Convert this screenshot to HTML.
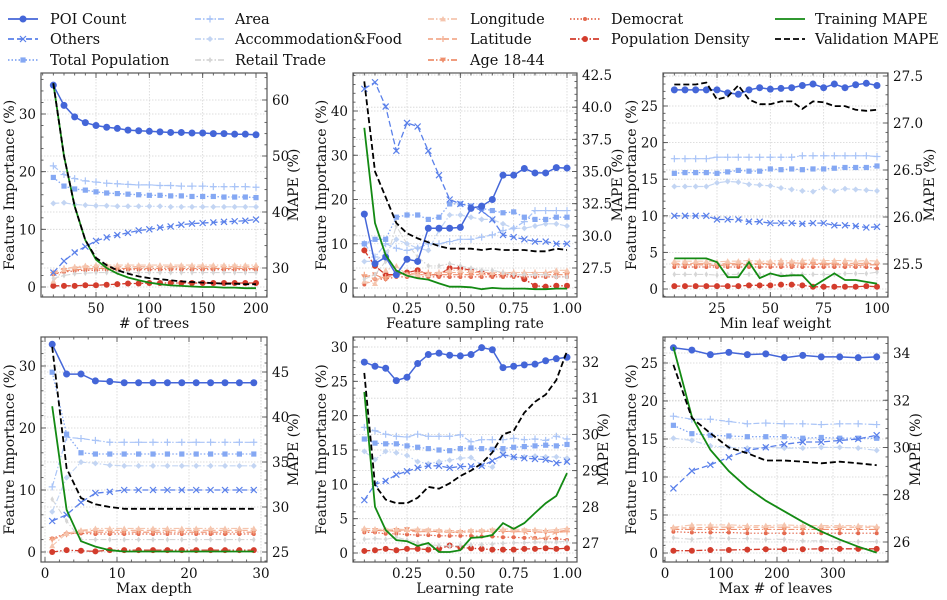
<!DOCTYPE html>
<html><head><meta charset="utf-8">
<style>
html,body{margin:0;padding:0;background:#fff;}
svg{display:block;font-family:"DejaVu Serif","Liberation Serif",serif;}
</style></head>
<body>
<svg id="fig" width="947" height="600" viewBox="0 0 947 600"></svg>
<script>
// ---------------- DATA ----------------
const seriesNames = ["POI Count","Others","Total Population","Area","Accommodation&Food","Retail Trade","Longitude","Latitude","Age 18-44","Democrat","Population Density"];

// Panel 1: # of trees
const p1_x = [10,20,30,40,50,60,70,80,90,100,110,120,130,140,150,160,170,180,190,200];
const p1_poi = [35,31.5,29.5,28.5,28,27.7,27.5,27.2,27.1,27,26.9,26.8,26.8,26.7,26.7,26.6,26.6,26.5,26.5,26.4];
const p1_others = [2.5,4.5,6,7,8,8.6,9,9.4,9.8,10,10.3,10.5,10.8,11,11.1,11.2,11.3,11.4,11.5,11.7];
const p1_totpop = [19,17.5,17,16.8,16.5,16.3,16.2,16.1,16,15.9,15.9,15.8,15.8,15.7,15.7,15.7,15.6,15.6,15.6,15.5];
const p1_area = [21,19.5,18.8,18.4,18.2,18,17.9,17.8,17.7,17.7,17.6,17.6,17.5,17.5,17.5,17.4,17.4,17.4,17.4,17.3];
const p1_accom = [14.5,14.6,14.3,14.2,14.1,14.1,14,14,14,14,14,13.9,13.9,13.9,13.9,13.9,13.9,13.9,13.9,13.9];
const p1_retail = [1.5,2,2.3,2.4,2.5,2.5,2.5,2.5,2.5,2.5,2.5,2.5,2.5,2.5,2.5,2.5,2.5,2.5,2.5,2.5];
const p1_lon = [1,3,3.5,3.7,3.8,3.8,3.8,3.8,3.8,3.8,3.8,3.8,3.8,3.8,3.8,3.8,3.8,3.8,3.8,3.8];
const p1_lat = [2.5,3.2,3.4,3.5,3.5,3.5,3.5,3.5,3.5,3.5,3.5,3.5,3.5,3.5,3.5,3.5,3.5,3.5,3.5,3.5];
const p1_age = [2.2,2.8,3,3.1,3.2,3.2,3.2,3.2,3.2,3.2,3.2,3.2,3.2,3.2,3.2,3.2,3.2,3.2,3.2,3.2];
const p1_dem = [2.2,2.6,2.8,2.9,2.9,3,3,3,3,3,3,3,3,3,3,3,3,3,3,3];
const p1_pd = [0.2,0.2,0.2,0.3,0.3,0.4,0.5,0.6,0.6,0.7,0.7,0.7,0.7,0.7,0.7,0.7,0.7,0.7,0.7,0.7];
const p1_train = [63,50,41,35,31.5,30,29,28.3,27.8,27.4,27.1,26.9,26.8,26.7,26.6,26.6,26.5,26.5,26.4,26.4];
const p1_val = [63,50,41,35,31.8,30.5,29.6,29,28.5,28.2,28,27.8,27.6,27.5,27.4,27.3,27.2,27.2,27.1,27.1];

// Panel 2: feature sampling rate
const p2_x = [0.05,0.1,0.15,0.2,0.25,0.3,0.35,0.4,0.45,0.5,0.55,0.6,0.65,0.7,0.75,0.8,0.85,0.9,0.95,1.0];
const p2_poi = [16.7,5.5,7,3,6.5,6,13.5,13.5,13.5,13.7,18,18.5,20,25.5,25.5,27,26,26,27.2,27.1];
const p2_others = [45,46.5,41,31,37.3,36.5,31,25.5,20,19,18.5,17.5,15.5,12,11.5,11,10.5,10.5,10,10];
const p2_totpop = [10,11,11,16,16.5,16.5,15.5,16,19,19,18.5,18,17.5,17,17.2,16,15.5,15.5,16,16];
const p2_area = [10,7,10,9,8.5,9,10,10,10.5,11,11,11.5,12,13,13.5,15,17.5,17.5,17.5,17.5];
const p2_accom = [6,6,8,11,10,9,8.5,13,16.5,16.5,16,15.5,15.5,14.5,13.5,13.5,14,14.5,14.5,14];
const p2_retail = [2,3,6,14,10,7,5,5,5.5,5,4.5,4,4,3.5,3,3,3,3,2.5,2.5];
const p2_lon = [1.5,1,4,5,3,3,3,3.5,4,4,4,3.5,3.5,3.5,3.5,3.5,3.5,3.5,4,4];
const p2_lat = [3,2,2.5,3,3,3.5,3.5,3.5,3.5,3.5,3.5,3.5,3.5,3.5,3.5,3.5,3.5,3.5,3.5,3.5];
const p2_age = [2.5,3,2,3.5,3,3,3,3,3,3,3,3,3,3,3,3,3,3,3,3];
const p2_dem = [0.8,2,2,2.5,2.5,2.5,2.5,2.5,2.5,2.5,2.5,2.5,2.5,2.5,2.5,2.5,2.5,2.5,2.5,2.5];
const p2_pd = [8.5,5,3,3,3.5,4,3,3,4.5,4.5,4,3.5,3,3,3,2,0.5,0.3,0.5,0.5];
const p2_train = [38.4,31,28.5,27.3,26.9,26.7,26.6,26.3,26.05,26.05,26,25.85,25.95,25.9,25.9,25.9,25.85,25.85,25.9,25.9];
const p2_val = [42,35,33,31,30.2,29.8,29.5,29.2,29,29,29,28.9,29,28.9,28.9,28.9,28.8,28.8,29,28.9];

// Panel 3: min leaf weight
const p3_x = [5,10,15,20,25,30,35,40,45,50,55,60,65,70,75,80,85,90,95,100];
const p3_poi = [27.2,27.2,27.2,27.2,27.2,26.8,26.6,27.2,27.5,27.3,27.4,27.5,27.8,28,27.5,28,27.5,27.9,28.1,27.8];
const p3_others = [10,10,10,10,9.5,9.5,9.5,9.2,9.2,9,9,9,8.9,9,9,8.7,8.7,8.6,8.4,8.5];
const p3_totpop = [15.8,15.9,15.9,15.9,15.8,16,16.2,16.1,16.1,16.4,16.3,16.4,16.3,16.4,16.4,16.5,16.6,16.6,16.6,16.8];
const p3_area = [17.8,17.8,17.8,17.8,18,18,18,18,18,18,18,18,18.2,18.2,18.2,18.2,18.2,18.2,18.2,18.1];
const p3_accom = [14,14,14,14,14.5,14.7,14.6,14.3,14.2,14.1,13.8,13.6,13.4,13.3,13.8,13.4,13.7,13.6,13.5,13.4];
const p3_retail = [2,2,2,2,1.9,2,2,2,2,2,2,2,2,2,2,2,2.1,2.1,2.1,2.3];
const p3_lon = [3.8,3.8,3.8,3.8,3.7,3.8,3.8,3.9,3.8,3.8,3.9,3.8,3.9,4,3.9,3.9,3.9,3.8,3.9,3.8];
const p3_lat = [3.5,3.5,3.5,3.5,3.4,3.5,3.5,3.5,3.5,3.5,3.5,3.6,3.5,3.5,3.5,3.5,3.5,3.5,3.5,3.5];
const p3_age = [3.3,3.3,3.3,3.3,3.2,3.3,3.3,3.3,3.4,3.3,3.3,3.2,3.3,3.4,3.3,3.3,3.3,3.2,3.3,3.3];
const p3_dem = [3,3,3,3,3,3,3,3,3,3,3,3,3,3,3,3,3,3,3,2.8];
const p3_pd = [0.4,0.4,0.4,0.4,0.4,0.4,0.4,0.5,0.5,0.5,0.6,0.6,0.5,0.3,0.3,0.3,0.3,0.3,0.4,0.3];
const p3_train = [25.56,25.56,25.56,25.56,25.52,25.36,25.36,25.52,25.35,25.4,25.37,25.38,25.38,25.26,25.33,25.4,25.33,25.33,25.31,25.29];
const p3_val = [27.41,27.41,27.41,27.43,27.25,27.28,27.4,27.25,27.2,27.2,27.23,27.23,27.15,27.23,27.22,27.18,27.18,27.14,27.13,27.14];

// Panel 4: max depth
const p4_x = [1,3,5,7,9,11,13,15,17,19,21,23,25,27,29];
const p4_poi = [33.5,28.7,28.7,27.6,27.5,27.3,27.3,27.3,27.3,27.3,27.3,27.3,27.3,27.3,27.3];
const p4_others = [5,6,8,9.5,9.7,10,10,10,10,10,10,10,10,10,10];
const p4_totpop = [29,19,16,15.8,15.8,15.8,15.8,15.8,15.8,15.8,15.8,15.8,15.8,15.8,15.8];
const p4_area = [10.5,18.5,18.3,18,17.7,17.7,17.7,17.7,17.7,17.7,17.7,17.7,17.7,17.7,17.7];
const p4_accom = [6.5,12,14.5,14.3,14,13.9,13.9,13.9,13.9,13.9,13.9,13.9,13.9,13.9,13.9];
const p4_retail = [8.5,5,2,2,2,2,2,2,2,2,2,2,2,2,2];
const p4_lon = [1,3,3.5,3.8,3.8,3.8,3.8,3.8,3.8,3.8,3.8,3.8,3.8,3.8,3.8];
const p4_lat = [2,3,3.4,3.5,3.5,3.5,3.5,3.5,3.5,3.5,3.5,3.5,3.5,3.5,3.5];
const p4_age = [2,2.8,3.2,3.2,3.2,3.2,3.2,3.2,3.2,3.2,3.2,3.2,3.2,3.2,3.2];
const p4_dem = [2.2,3,3,2.9,2.9,2.9,2.9,2.9,2.9,2.9,2.9,2.9,2.9,2.9,2.9];
const p4_pd = [0,0.3,0.2,0.1,0.3,0.3,0.3,0.3,0.3,0.3,0.3,0.3,0.3,0.3,0.3];
const p4_train = [41.2,29.7,26.2,25.6,25.2,25.05,25.05,25.05,25.05,25.05,25.05,25.05,25.05,25.05,25.05];
const p4_val = [47.8,34.3,31,30.3,30,29.8,29.8,29.8,29.8,29.8,29.8,29.8,29.8,29.8,29.8];

// Panel 5: learning rate
const p5_x = [0.05,0.1,0.15,0.2,0.25,0.3,0.35,0.4,0.45,0.5,0.55,0.6,0.65,0.7,0.75,0.8,0.85,0.9,0.95,1.0];
const p5_poi = [27.8,27.2,26.9,25.1,25.6,27.6,28.9,29.1,28.8,28.7,28.9,29.9,29.6,27,27.2,27.4,27.5,28,28.3,28.5];
const p5_others = [7.7,10,10.5,11.4,11.9,12.4,12.7,12.7,12.4,12.6,12.6,12.7,13.4,14.3,14,13.8,13.7,13.6,13.1,13.3];
const p5_totpop = [16.6,16,15.9,15.9,15.6,15.4,15.2,15,14.9,15.2,15.3,15.2,15.1,15.2,15.4,15.5,15.6,15.7,15.6,15.8];
const p5_area = [18.3,17.8,17.3,17,16.9,17.3,17,17,17,17.2,16.2,16.5,16.5,16.5,16.7,16.5,16.6,16.4,17,16.6];
const p5_accom = [14.8,13.6,14.8,14.6,14.2,13.3,13,13.3,13.5,13.8,13.9,12.8,12.5,14.6,13.8,14,14.1,14,14,13.8];
const p5_retail = [2,2.1,2,2.3,1.9,1.5,1.2,1.1,1,1.1,1.2,1.2,1.3,1.4,1.5,1.5,1.6,1.6,1.6,1.7];
const p5_lon = [3.6,3.5,3.4,3.5,3.4,3.5,3.4,3.3,3.3,3.2,3.3,3.3,3.4,3.5,3.5,3.4,3.4,3.3,3.4,3.6];
const p5_lat = [3.3,3.2,3.3,3.1,3.2,3.1,3.1,3.2,3.0,3.1,3.1,3.2,3.1,3.2,3.1,3.1,2.0,2.2,3.0,3.1];
const p5_age = [3.2,3.3,3.2,3.3,3.4,3.2,3.2,3.1,3.0,3.0,3.1,3.1,3.2,3.1,3.2,3.2,3.1,3.0,3.1,3.3];
const p5_dem = [3,3,2.8,2.8,2.7,2.6,2.6,2.5,2.5,2.5,2.5,2.4,2.4,2.3,2.3,2.2,2.2,2.1,2.1,1.9];
const p5_pd = [0.3,0.4,0.6,0.4,0.6,0.6,0.5,0.6,1.1,0.8,0.7,0.6,0.5,0.5,0.5,0.6,0.6,0.7,0.6,0.7];
const p5_train = [31.17,28,27.36,27.08,27.05,26.92,27,26.75,26.75,26.8,27.14,27.16,27.22,27.55,27.39,27.55,27.83,28.1,28.3,28.93];
const p5_val = [31.7,28.6,28.2,28.1,28.1,28.25,28.55,28.5,28.65,28.85,29.0,29.2,29.5,30.0,30.1,30.6,30.9,31.1,31.5,32.3];

// Panel 6: max # of leaves
const p6_x = [15,48,81,114,147,180,213,246,279,312,345,378];
const p6_poi = [27,26.7,26.1,26.4,26.1,26.2,25.7,26,25.8,25.8,25.7,25.8];
const p6_others = [8.5,10.8,11.6,12.6,13.5,13.9,14.3,14.6,14.6,14.8,15,15.5];
const p6_totpop = [16.8,15.7,15.5,15.4,15.3,15.3,15.3,15.1,15.2,15.1,15.1,15.1];
const p6_area = [18,17.6,17.6,17.3,17,17.1,17,17,16.9,17,17,16.9];
const p6_accom = [15.1,14.8,14.1,13.9,13.8,13.9,13.8,13.8,13.9,13.9,13.8,13.5];
const p6_retail = [2,1.8,2,1.9,1.9,1.8,1.8,1.6,1.6,1.5,1.5,1.5];
const p6_lon = [3.4,3.7,3.7,3.7,3.6,3.6,3.7,3.6,3.6,3.6,3.6,3.5];
const p6_lat = [3.3,3.3,3.4,3.4,3.4,3.4,3.4,3.4,3.4,3.4,3.4,3.4];
const p6_age = [3.1,3.1,3.1,3.1,3.1,3.1,3.1,3.1,3.1,3.1,3.1,3.1];
const p6_dem = [2.8,2.7,2.7,2.7,2.6,2.6,2.6,2.6,2.6,2.6,2.6,2.6];
const p6_pd = [0.3,0.3,0.4,0.4,0.45,0.5,0.5,0.5,0.55,0.55,0.55,0.55];
const p6_train = [34.25,31.3,29.9,29.0,28.3,27.75,27.3,26.85,26.45,26.1,25.8,25.55];
const p6_val = [33.5,31.25,30.6,30,29.76,29.45,29.45,29.4,29.33,29.4,29.33,29.25];

// Tick labels
const p1_xticks=[50,100,150,200], p1_lticks=[0,10,20,30], p1_rticks=[30,40,50,60];
const p2_xticks=["0.25","0.50","0.75","1.00"], p2_lticks=[0,10,20,30,40], p2_rticks=["27.5","30.0","32.5","35.0","37.5","40.0","42.5"];
const p3_xticks=[25,50,75,100], p3_lticks=[0,5,10,15,20,25], p3_rticks=["25.5","26.0","26.5","27.0","27.5"];
const p4_xticks=[0,10,20,30], p4_lticks=[0,10,20,30], p4_rticks=[25,30,35,40,45];
const p5_xticks=["0.25","0.50","0.75","1.00"], p5_lticks=[0,5,10,15,20,25,30], p5_rticks=[27,28,29,30,31,32];
const p6_xticks=[0,100,200,300], p6_lticks=[0,5,10,15,20,25], p6_rticks=[26,28,30,32,34];

// ---------------- STYLE ----------------
const styles = [
 {c:"#4466d8",d:"",m:"circle",r:3.5,w:1.5},
 {c:"#5a80ea",d:"6,3",m:"x",r:3,w:1.3},
 {c:"#85a8f3",d:"1.5,2",m:"square",r:2.6,w:1.3},
 {c:"#a9c4f7",d:"6,2,1.5,2",m:"plus",r:3.5,w:1.2},
 {c:"#c3d5f3",d:"6,2,1.5,2",m:"diamond",r:3,w:1.2},
 {c:"#d6d6d6",d:"6,2,1.5,2",m:"tdiamond",r:3,w:1.1},
 {c:"#f5c5ae",d:"6,2,1.5,2",m:"tri",r:3,w:1.1},
 {c:"#f3ab8d",d:"5,3",m:"plus",r:3,w:1.1},
 {c:"#ee8e6c",d:"6,2,1.5,2",m:"tridown",r:3,w:1.1},
 {c:"#e46a50",d:"1.5,2",m:"circle",r:2,w:1.2},
 {c:"#d33c2c",d:"6,2,1.5,2",m:"circle",r:3,w:1.3}
];

const NS="http://www.w3.org/2000/svg";
const svg=document.getElementById('fig');
function mk(tag,attrs,parent){const e=document.createElementNS(NS,tag);for(const k in attrs)e.setAttribute(k,attrs[k]);(parent||svg).appendChild(e);return e;}
function linear(v1,p1,v2,p2){return v=>p1+(v-v1)*(p2-p1)/(v2-v1);}

function marker(g,type,x,y,r,c){
  let e;
  if(type==="circle") e=mk('circle',{cx:x,cy:y,r:r,fill:c},g);
  else if(type==="square") e=mk('rect',{x:x-r,y:y-r,width:2*r,height:2*r,fill:c},g);
  else if(type==="x") e=mk('path',{d:`M${x-r},${y-r}L${x+r},${y+r}M${x-r},${y+r}L${x+r},${y-r}`,stroke:c,'stroke-width':1.2,fill:'none'},g);
  else if(type==="plus") e=mk('path',{d:`M${x-r},${y}L${x+r},${y}M${x},${y-r}L${x},${y+r}`,stroke:c,'stroke-width':1.2,fill:'none'},g);
  else if(type==="diamond") e=mk('path',{d:`M${x},${y-r}L${x+r},${y}L${x},${y+r}L${x-r},${y}Z`,fill:c},g);
  else if(type==="tdiamond") e=mk('path',{d:`M${x},${y-r}L${x+r*0.6},${y}L${x},${y+r}L${x-r*0.6},${y}Z`,fill:c},g);
  else if(type==="tri") e=mk('path',{d:`M${x},${y-r}L${x+r},${y+r*0.8}L${x-r},${y+r*0.8}Z`,fill:c},g);
  else e=mk('path',{d:`M${x},${y+r}L${x+r},${y-r*0.8}L${x-r},${y-r*0.8}Z`,fill:c},g);
  
  
}

const panels=[
 {id:1,box:[41,73,267,297],x:[50,96,200,256],l:[0,287,30,114],r:[30,268,60,100],xt:p1_xticks,lt:p1_lticks,rt:p1_rticks,xm:10,lm:2,rm:2,xl:"# of trees",ro:31,
  xs:p1_x,f:[p1_poi,p1_others,p1_totpop,p1_area,p1_accom,p1_retail,p1_lon,p1_lat,p1_age,p1_dem,p1_pd],tr:p1_train,va:p1_val},
 {id:2,box:[353,73,577,297],x:[0.25,407,1,567],l:[0,288,40,111],r:[27.5,268,42.5,75],xt:p2_xticks,lt:p2_lticks,rt:p2_rticks,xm:0.05,lm:2,rm:0.5,xl:"Feature sampling rate",ro:45,
  xs:p2_x,f:[p2_poi,p2_others,p2_totpop,p2_area,p2_accom,p2_retail,p2_lon,p2_lat,p2_age,p2_dem,p2_pd],tr:p2_train,va:p2_val},
 {id:3,box:[663,73,888,297],x:[25,717,100,877],l:[0,289,25,106],r:[25.5,264,27.5,76],xt:p3_xticks,lt:p3_lticks,rt:p3_rticks,xm:5,lm:1,rm:0.1,xl:"Min leaf weight",ro:46,
  xs:p3_x,f:[p3_poi,p3_others,p3_totpop,p3_area,p3_accom,p3_retail,p3_lon,p3_lat,p3_age,p3_dem,p3_pd],tr:p3_train,va:p3_val},
 {id:4,box:[41,337,267,562],x:[0,45,30,261],l:[0,552,30,366],r:[25,552,45,372],xt:p4_xticks,lt:p4_lticks,rt:p4_rticks,xm:2,lm:2,rm:1,xl:"Max depth",ro:31,
  xs:p4_x,f:[p4_poi,p4_others,p4_totpop,p4_area,p4_accom,p4_retail,p4_lon,p4_lat,p4_age,p4_dem,p4_pd],tr:p4_train,va:p4_val},
 {id:5,box:[353,337,577,562],x:[0.25,407,1,567],l:[0,553,30,347],r:[27,543,32,362],xt:p5_xticks,lt:p5_lticks,rt:p5_rticks,xm:0.05,lm:1,rm:0.2,xl:"Learning rate",ro:31,
  xs:p5_x,f:[p5_poi,p5_others,p5_totpop,p5_area,p5_accom,p5_retail,p5_lon,p5_lat,p5_age,p5_dem,p5_pd],tr:p5_train,va:p5_val},
 {id:6,box:[663,337,888,562],x:[0,665,300,833],l:[0,553,25,363],r:[26,542,34,353],xt:p6_xticks,lt:p6_lticks,rt:p6_rticks,xm:20,lm:1,rm:0.4,xl:"Max # of leaves",ro:32,
  xs:p6_x,f:[p6_poi,p6_others,p6_totpop,p6_area,p6_accom,p6_retail,p6_lon,p6_lat,p6_age,p6_dem,p6_pd],tr:p6_train,va:p6_val}
];

panels.forEach(P=>{
  const [x0,y0,x1,y1]=P.box;
  const X=linear(...P.x), L=linear(...P.l), R=linear(...P.r);
  const Xi=linear(P.x[1],P.x[0],P.x[3],P.x[2]), Li=linear(P.l[1],P.l[0],P.l[3],P.l[2]), Ri=linear(P.r[1],P.r[0],P.r[3],P.r[2]);
  const g=mk('g',{});
  
  
  const cid='clip'+P.id;
  const cp=mk('clipPath',{id:cid},g); mk('rect',{x:x0,y:y0,width:x1-x0,height:y1-y0},cp);
  const grid=mk('g',{stroke:'#d4d4d4','stroke-width':0.8,'stroke-dasharray':'1.5,1.5'},g);
  
  
  P.xt.forEach(t=>{const px=X(+t); if(px>x0+1&&px<x1-1) mk('line',{x1:px,x2:px,y1:y0,y2:y1},grid);});
  P.lt.forEach(t=>{const py=L(+t); if(py>y0+1&&py<y1-1) mk('line',{x1:x0,x2:x1,y1:py,y2:py},grid);});
  P.rt.forEach(t=>{const py=R(+t); if(py>y0+1&&py<y1-1) mk('line',{x1:x0,x2:x1,y1:py,y2:py},grid);});
  const sg=mk('g',{'clip-path':`url(#${cid})`},g);
  for(let s=P.f.length-1;s>=0;s--){
    const st=styles[s], vals=P.f[s];
    const ser=mk('g',{},sg);
    
    
    const pts=vals.map((v,i)=>X(P.xs[i]).toFixed(1)+','+L(v).toFixed(1)).join(' ');
    mk('polyline',{points:pts,fill:'none',stroke:st.c,'stroke-width':st.w,'stroke-dasharray':st.d},ser);
    vals.forEach((v,i)=>marker(ser,st.m,X(P.xs[i]),L(v),st.r,st.c));
  }
  const tl=mk('polyline',{points:P.tr.map((v,i)=>X(P.xs[i]).toFixed(1)+','+R(v).toFixed(1)).join(' '),fill:'none',stroke:'#138a13','stroke-width':1.8},sg);
  
  
  const vl=mk('polyline',{points:P.va.map((v,i)=>X(P.xs[i]).toFixed(1)+','+R(v).toFixed(1)).join(' '),fill:'none',stroke:'#000','stroke-width':1.8,'stroke-dasharray':'6,3'},sg);
  
  
  const fr=mk('rect',{x:x0,y:y0,width:x1-x0,height:y1-y0,fill:'none',stroke:'#555','stroke-width':1.2},g);
  
  
  const tk=mk('g',{stroke:'#555','stroke-width':0.9},g);
  
  
  const minorRange=(inv,a,b,step)=>{const lo=Math.min(inv(a),inv(b)),hi=Math.max(inv(a),inv(b));const out=[];for(let v=Math.ceil(lo/step)*step;v<=hi;v+=step)out.push(v);return out;};
  minorRange(Xi,x0,x1,P.xm).forEach(v=>{const px=X(v);mk('line',{x1:px,x2:px,y1:y1,y2:y1-2.5},tk);mk('line',{x1:px,x2:px,y1:y0,y2:y0+2.5},tk);});
  minorRange(Li,y1,y0,P.lm).forEach(v=>{const py=L(v);mk('line',{x1:x0,x2:x0+2.5,y1:py,y2:py},tk);});
  minorRange(Ri,y1,y0,P.rm).forEach(v=>{const py=R(v);mk('line',{x1:x1,x2:x1-2.5,y1:py,y2:py},tk);});
  const tx=mk('g',{'font-size':13.5,fill:'#111'},g);
  
  
  P.xt.forEach(t=>{const px=X(+t);mk('line',{x1:px,x2:px,y1:y1,y2:y1-5},tk);mk('line',{x1:px,x2:px,y1:y0,y2:y0+5},tk);
    const e=mk('text',{x:px,y:y1+16,'text-anchor':'middle'},tx);e.textContent=t;});
  P.lt.forEach(t=>{const py=L(+t);mk('line',{x1:x0,x2:x0+5,y1:py,y2:py},tk);
    const e=mk('text',{x:x0-5,y:py+5,'text-anchor':'end'},tx);e.textContent=t;});
  P.rt.forEach(t=>{const py=R(+t);mk('line',{x1:x1,x2:x1-5,y1:py,y2:py},tk);
    const e=mk('text',{x:x1+5,y:py+5,'text-anchor':'start'},tx);e.textContent=t;});
  const xtl=mk('text',{x:(x0+x1)/2,y:y1+31,'text-anchor':'middle','font-size':14,fill:'#111'},g);xtl.textContent=P.xl;
  
  
  const lx=x0-27, ly=(y0+y1)/2;
  const ytl=mk('text',{x:lx,y:ly,'text-anchor':'middle','font-size':14,fill:'#111',transform:`rotate(-90 ${lx} ${ly})`},g);ytl.textContent="Feature Importance (%)";
  
  
  const rx=x1+P.ro, ry=(y0+y1)/2;
  const rtl=mk('text',{x:rx,y:ry,'text-anchor':'middle','font-size':14,fill:'#111',transform:`rotate(-90 ${rx} ${ry})`},g);rtl.textContent="MAPE (%)";
  
  
});

// ---------------- LEGEND ----------------
const legendCols=[[8,50],[195,235],[428,470],[570,611],[775,815]];
const legendRows=[19,39,60];
const lg=mk('g',{});


const legendItems=[];
seriesNames.forEach((n,i)=>{
  const col=i<3?0:i<6?1:i<9?2:3, row=i<9?i%3:i-9;
  legendItems.push({n:n,col:col,row:row,s:styles[i]});
});
legendItems.push({n:"Training MAPE",col:4,row:0,line:{c:'#138a13',d:''}});
legendItems.push({n:"Validation MAPE",col:4,row:1,line:{c:'#000',d:'6,3'}});
legendItems.forEach(it=>{
  const [lx,tx]=legendCols[it.col], y=legendRows[it.row];
  const e=mk('g',{},lg);
  
  
  const st=it.s||it.line;
  mk('line',{x1:lx,x2:lx+30,y1:y,y2:y,stroke:st.c,'stroke-width':1.8,'stroke-dasharray':st.d},e);
  if(it.s) marker(e,it.s.m,lx+15,y,it.s.r,it.s.c);
  const t=mk('text',{x:tx,y:y+5,'font-size':14.5,fill:'#111'},e);t.textContent=it.n;
});
</script>
</body></html>
